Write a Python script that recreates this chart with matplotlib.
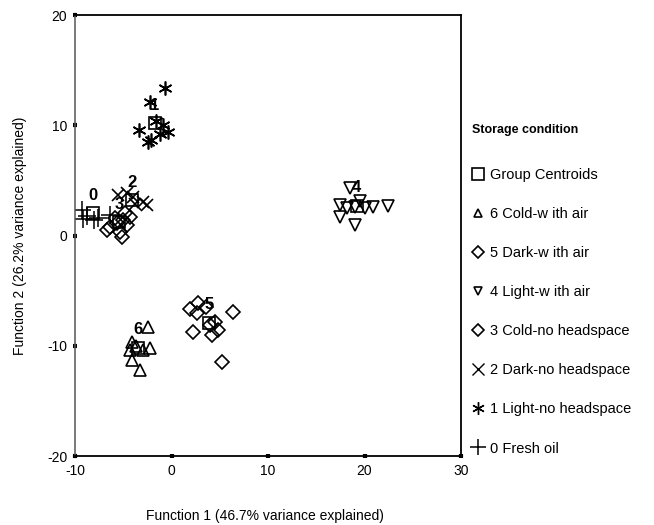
import matplotlib
matplotlib.use("Agg")
import matplotlib.pyplot as plt
from matplotlib.lines import Line2D

plt.rcParams['font.family'] = ['Liberation Sans', 'DejaVu Sans']
plt.rcParams['axes.unicode_minus'] = False

# ---- data ----
g0_x = [-9.3, -9.2, -8.8, -8.0, -7.6, -6.4]
g0_y = [2.3, 1.5, 1.8, 1.4, 1.6, 1.9]
g1_x = [-0.7, -2.2, -3.4, -2.4, -2.1, -0.9, -0.4, -1.6, -1.2]
g1_y = [13.4, 12.1, 9.6, 8.5, 8.7, 10.0, 9.4, 10.4, 9.2]
g2_x = [-5.5, -4.6, -4.0, -3.0, -2.5, -3.8]
g2_y = [3.7, 3.9, 3.5, 3.0, 2.8, 2.9]
g3_x = [-6.7, -6.4, -5.6, -5.3, -5.9, -5.0, -4.6, -5.1, -4.3, -4.8]
g3_y = [0.5, 0.8, 1.1, 0.3, 1.6, 1.4, 0.95, -0.1, 1.7, 2.0]
g4_x = [17.5, 18.2, 18.5, 19.0, 19.5, 20.05, 20.9, 22.4, 19.0, 17.5]
g4_y = [2.8, 2.5, 4.3, 2.6, 3.1, 2.5, 2.6, 2.7, 0.95, 1.7]
g5_x = [1.9, 2.7, 2.6, 4.5, 6.4, 2.2, 4.2, 4.8, 5.2, 3.6, 4.0]
g5_y = [-6.7, -6.1, -7.0, -7.8, -6.9, -8.75, -9.0, -8.6, -11.5, -6.5, -8.1]
g6_x = [-2.4, -4.1, -4.3, -2.2, -4.1, -3.3, -3.0, -3.7]
g6_y = [-8.3, -9.7, -10.4, -10.2, -11.3, -12.2, -10.4, -10.0]

centroid_labels = ['0', '1', '2', '3', '4', '5', '6']
centroid_x = [-8.1, -1.7, -4.1, -5.4, 19.2, 3.9, -3.5]
centroid_y = [2.0, 10.2, 3.2, 1.2, 2.7, -7.9, -10.2]

legend_title = 'Storage condition'
legend_labels = ['Group Centroids', '6 Cold-w ith air', '5 Dark-w ith air',
                 '4 Light-w ith air', '3 Cold-no headspace', '2 Dark-no headspace',
                 '1 Light-no headspace', '0 Fresh oil']
x_ticks = [-10, 0, 10, 20, 30]
y_ticks = [-20, -10, 0, 10, 20]

fig = plt.figure(figsize=(6.54, 5.25), dpi=100)
ax = fig.add_axes([0.1147, 0.1314, 0.5902, 0.84])

open_kw = dict(linestyle='none', markerfacecolor='none', markeredgecolor='black', markeredgewidth=1.2)
ax.plot(g6_x, g6_y, marker='^', markersize=8, **open_kw)
ax.plot(g5_x, g5_y, marker='D', markersize=7, **open_kw)
ax.plot(g4_x, g4_y, marker='v', markersize=8, **open_kw)
ax.plot(g3_x, g3_y, marker='D', markersize=7, **open_kw)
ax.plot(g2_x, g2_y, marker='x', markersize=8, linestyle='none', color='black', markeredgewidth=1.2)
ax.plot(g1_x, g1_y, marker=(6, 2, 0), markersize=10, linestyle='none', color='black', markeredgewidth=1.2)
ax.plot(g0_x, g0_y, marker='+', markersize=13, linestyle='none', color='black', markeredgewidth=1.1)
ax.plot(centroid_x, centroid_y, marker='s', markersize=9, **open_kw)
for lab, cx, cy in zip(centroid_labels, centroid_x, centroid_y):
    ax.annotate(lab, (cx, cy), xytext=(0, 13), textcoords='offset points',
                ha='center', va='center', fontsize=12, fontweight='bold')

ax.set_xlim(-10, 30)
ax.set_ylim(-20, 20)
ax.set_xticks(x_ticks)
ax.set_yticks(y_ticks)
ax.tick_params(direction='inout', length=3, width=3, labelsize=10, pad=4)
for s in ['top', 'right', 'bottom']:
    ax.spines[s].set_color('black')
    ax.spines[s].set_linewidth(1.3)
ax.spines['left'].set_color('#555555')
ax.spines['left'].set_linewidth(1.1)

fig.text(0.405, 0.003, 'Function 1 (46.7% variance explained)', ha='center', va='bottom', fontsize=10)
fig.text(0.03, 0.55, 'Function 2 (26.2% variance explained)', ha='center', va='center',
         rotation=90, fontsize=10)

handles = [
    Line2D([], [], marker='s', markersize=9, **open_kw),
    Line2D([], [], marker='^', markersize=6, **open_kw),
    Line2D([], [], marker='D', markersize=6, **open_kw),
    Line2D([], [], marker='v', markersize=6, **open_kw),
    Line2D([], [], marker='D', markersize=6, **open_kw),
    Line2D([], [], marker='x', markersize=8, linestyle='none', color='black', markeredgewidth=1.0),
    Line2D([], [], marker=(6, 2, 0), markersize=9, linestyle='none', color='black', markeredgewidth=1.0),
    Line2D([], [], marker='+', markersize=11, linestyle='none', color='black', markeredgewidth=1.1),
]
fig.text(0.7217, 0.7524, legend_title, ha='left', va='center', fontsize=9, fontweight='bold')
leg = fig.legend(handles, legend_labels, loc='upper left', bbox_to_anchor=(0.722, 0.680),
                 frameon=False, fontsize=10.5, labelspacing=1.72, handlelength=0.8,
                 handletextpad=0.45, borderaxespad=0, borderpad=0)

fig.savefig('out.png', dpi=100)
